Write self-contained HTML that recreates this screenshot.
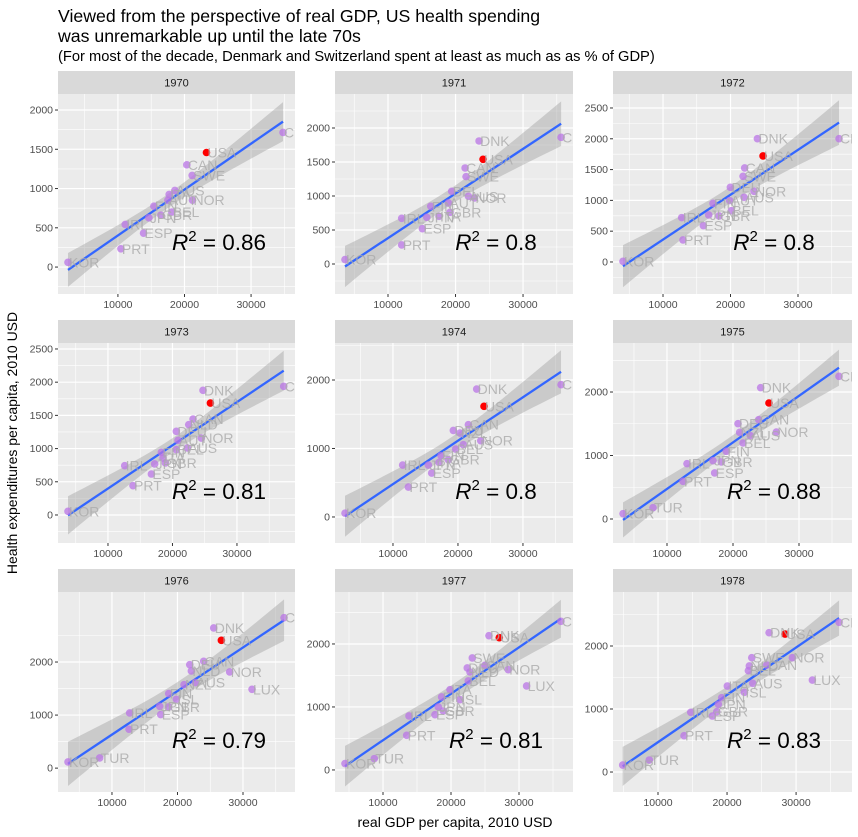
<!DOCTYPE html>
<html><head><meta charset="utf-8"><title>US health spending vs GDP</title>
<style>
html,body{margin:0;padding:0;background:#fff;}
svg{display:block;font-family:"Liberation Sans",Arial,sans-serif;}
</style></head>
<body>
<svg id="chart" width="858" height="837" viewBox="0 0 858 837" xmlns="http://www.w3.org/2000/svg">
<text x="58" y="22" font-size="17.7" fill="#000">Viewed from the perspective of real GDP, US health spending</text>
<text x="58" y="42" font-size="17.7" fill="#000">was unremarkable up until the late 70s</text>
<text x="58" y="61" font-size="14.7" fill="#000">(For most of the decade, Denmark and Switzerland spent at least as much as as % of GDP)</text>
<text transform="translate(17,443) rotate(-90)" text-anchor="middle" font-size="14" fill="#000">Health expenditures per capita, 2010 USD</text>
<text x="455" y="827" text-anchor="middle" font-size="14" fill="#000">real GDP per capita, 2010 USD</text>
<g id="panels"></g>
</svg>
<script>
const years = ["1970","1971","1972","1973","1974","1975","1976","1977","1978"];
const r2Labels = ["0.86","0.8","0.8","0.81","0.8","0.88","0.79","0.81","0.83"];
const xTicks = [10000, 20000, 30000];
const yTicks1970 = [0,500,1000,1500,2000];
const yTicks1971 = [0,500,1000,1500,2000];
const yTicks1972 = [0,500,1000,1500,2000,2500];
const yTicks1973 = [0,500,1000,1500,2000,2500];
const yTicksLate = [0,1000,2000];
const xDomains = [[1000,36600],[2150,37400],[2590,38000],[2250,39000],[1080,37700],[1820,38030],[1760,37940],[2940,37940],[3480,38100]];
const yDomains = [[-343,2204],[-441,2500],[-520,2727],[-422,2590],[-380,2540],[-378,2772],[-450,3320],[-350,2825],[-317,2857]];

const data1970 = [["KOR",2500,60],["PRT",10450,233],["ESP",13850,432],["IRL",11100,543],["JPN",14650,627],["GBR",16450,661],["FIN",15400,776],["BEL",18100,700],["AUT",17500,852],["ITA",17700,925],["AUS",18550,976],["NOR",21200,852],["SWE",21150,1167],["CAN",20350,1302],["USA",23300,1459],["CHE",34800,1714]];
const data1971 = [["KOR",3630,65],["PRT",12030,280],["ESP",15090,520],["IRL",12030,672],["JPN",15740,687],["ITA",17560,702],["GBR",19190,760],["FIN",16330,849],["AUT",18950,898],["BEL",19440,1069],["AUS",21910,996],["NOR",22800,971],["SWE",21560,1285],["CAN",21420,1412],["USA",24080,1540],["DNK",23490,1809],["CHE",35640,1863]];
const data1972 = [["KOR",4070,10],["PRT",12960,357],["ESP",15980,590],["IRL",12770,720],["JPN",16770,763],["GBR",18300,747],["BEL",20130,833],["FIN",17410,952],["AUT",19880,996],["DEU",19980,1212],["AUS",22000,1050],["NOR",23490,1147],["SWE",21860,1391],["CAN",22100,1526],["USA",24820,1721],["DNK",23980,2002],["CHE",36080,2002]];
const data1973 = [["KOR",3800,55],["PRT",13880,441],["ESP",16730,617],["IRL",12590,743],["JPN",17240,768],["GBR",18900,783],["ITA",18540,858],["FIN",18280,944],["BEL",20600,984],["AUS",22310,1009],["AUT",20860,1124],["NOR",24480,1159],["DEU",20600,1260],["NLD",22520,1360],["CAN",23190,1445],["USA",25880,1686],["DNK",24740,1877],["CHE",37250,1937]];
const data1974 = [["KOR",2620,56],["PRT",12370,436],["ESP",15960,641],["IRL",11490,758],["JPN",15440,758],["ITA",17090,797],["GBR",18520,836],["FIN",17390,894],["BEL",19650,991],["AUS",20830,1055],["NOR",23500,1113],["DEU",19290,1264],["NZL",20320,1225],["CAN",21600,1347],["USA",24010,1615],["DNK",22880,1868],["CHE",35860,1931]];
const data1975 = [["KOR",3340,84],["TUR",7880,179],["PRT",12430,593],["ESP",17220,725],["IRL",13030,872],["JPN",16970,919],["GBR",18230,898],["FIN",18990,1066],["BEL",21520,1197],["NZL",21010,1365],["AUS",22630,1312],["NOR",26570,1370],["DEU",20760,1502],["CAN",23890,1565],["USA",25450,1827],["DNK",24190,2069],["CHE",36060,2247]];
const data1976 = [["KOR",3290,117],["TUR",8120,193],["PRT",12600,733],["IRL",12700,1040],["ESP",17440,1009],["JPN",17280,1166],["GBR",18660,1153],["ISL",19830,1298],["FIN",18660,1405],["NZL",21000,1574],["AUS",22730,1612],["NLD",22120,1832],["DEU",21870,1951],["CAN",24000,2014],["NOR",27970,1813],["LUX",31380,1486],["USA",26700,2409],["DNK",25530,2642],["CHE",36270,2836]];
const data1977 = [["KOR",4410,101],["TUR",8720,180],["PRT",13480,550],["IRL",13820,857],["ESP",17640,878],["GBR",18870,936],["JPN",18130,1000],["ISL",21320,1116],["FIN",18620,1159],["ITA",19850,1275],["BEL",22540,1413],["NLD",22790,1555],["DEU",22390,1619],["CAN",24990,1661],["NOR",28420,1592],["SWE",23130,1778],["LUX",31120,1333],["USA",27100,2100],["DNK",25580,2132],["CHE",36160,2359]];
const data1978 = [["KOR",4880,111],["TUR",8740,191],["PRT",13770,576],["ESP",17870,889],["IRL",14740,948],["GBR",18510,957],["JPN",18740,1075],["FIN",19230,1180],["ISL",22510,1265],["ITA",20040,1365],["AUS",23720,1408],["BEL",23090,1608],["NLD",23230,1683],["CAN",25750,1698],["SWE",23580,1814],["NOR",29460,1814],["LUX",32360,1460],["DNK",26090,2211],["USA",28400,2190],["CHE",36230,2376]];

const allData = [data1970,data1971,data1972,data1973,data1974,data1975,data1976,data1977,data1978];
const allYTicks = [yTicks1970,yTicks1971,yTicks1972,yTicks1973,yTicksLate,yTicksLate,yTicksLate,yTicksLate,yTicksLate];

const NS = "http://www.w3.org/2000/svg";
const colLeft = [58, 335, 613];
const colWidth = [237, 238, 239];
const rowTop = [94, 343, 592];
const panelH = 200, stripH = 23;
const root = document.getElementById('panels');

function mk(tag, attrs, parent) {
  const e = document.createElementNS(NS, tag);
  for (const k in attrs) e.setAttribute(k, attrs[k]);
  parent.appendChild(e);
  return e;
}

allData.forEach(function(d, i) {
  const col = i % 3, row = Math.floor(i / 3);
  const L = colLeft[col], W = colWidth[col], T = rowTop[row];
  const xd = xDomains[i], yd = yDomains[i];
  const sx = v => L + (v - xd[0]) / (xd[1] - xd[0]) * W;
  const sy = v => T + panelH - (v - yd[0]) / (yd[1] - yd[0]) * panelH;

  const g = mk('g', {}, root);
  
  

  const clip = mk('clipPath', {id: 'clip' + i}, g);
  mk('rect', {x: L, y: T, width: W, height: panelH}, clip);

  const strip = mk('rect', {x: L, y: T - stripH, width: W, height: stripH, fill: '#d9d9d9'}, g);
  
  
  const st = mk('text', {x: L + W / 2, y: T - stripH / 2 + 4, 'text-anchor': 'middle', 'font-size': '11', fill: '#1a1a1a'}, g);
  st.textContent = years[i];
  
  

  const bg = mk('rect', {x: L, y: T, width: W, height: panelH, fill: '#ebebeb'}, g);
  
  

  const yt = allYTicks[i];
  const ystep = yt[1] - yt[0];
  for (let v = yt[0] - ystep / 2; v <= yt[yt.length - 1] + ystep; v += ystep) {
    if (v > yd[0] && v < yd[1]) mk('line', {x1: L, x2: L + W, y1: sy(v), y2: sy(v), stroke: '#fff', 'stroke-width': 0.6}, g);
  }
  const xstep = xTicks[1] - xTicks[0];
  for (let v = xTicks[0] - xstep / 2; v <= xTicks[xTicks.length - 1] + xstep; v += xstep) {
    if (v > xd[0] && v < xd[1]) mk('line', {y1: T, y2: T + panelH, x1: sx(v), x2: sx(v), stroke: '#fff', 'stroke-width': 0.6}, g);
  }
  yt.forEach(function(v) {
    const y = sy(v);
    mk('line', {x1: L, x2: L + W, y1: y, y2: y, stroke: '#fff', 'stroke-width': 1.2}, g);
    mk('line', {x1: L - 3, x2: L, y1: y, y2: y, stroke: '#333', 'stroke-width': 1}, g);
    const t = mk('text', {x: L - 5, y: y + 3.5, 'text-anchor': 'end', 'font-size': '10.5', fill: '#4d4d4d'}, g);
    t.textContent = v;
    
    
  });
  xTicks.forEach(function(v) {
    const x = sx(v);
    mk('line', {y1: T, y2: T + panelH, x1: x, x2: x, stroke: '#fff', 'stroke-width': 1.2}, g);
    mk('line', {y1: T + panelH, y2: T + panelH + 3, x1: x, x2: x, stroke: '#333', 'stroke-width': 1}, g);
    const t = mk('text', {x: x, y: T + panelH + 14, 'text-anchor': 'middle', 'font-size': '10.5', fill: '#4d4d4d'}, g);
    t.textContent = v;
    
    
  });

  const cg = mk('g', {'clip-path': 'url(#clip' + i + ')'}, g);

  const n = d.length;
  let mx = 0, my = 0;
  d.forEach(p => { mx += p[1]; my += p[2]; });
  mx /= n; my /= n;
  let sxx = 0, sxy = 0;
  d.forEach(p => { sxx += (p[1] - mx) * (p[1] - mx); sxy += (p[1] - mx) * (p[2] - my); });
  const b = sxy / sxx, a = my - b * mx;
  let sse = 0;
  d.forEach(p => { const r = p[2] - (a + b * p[1]); sse += r * r; });
  const s = Math.sqrt(sse / (n - 2));
  const tcrit = 2.12;
  const xmin = Math.min.apply(null, d.map(p => p[1]));
  const xmax = Math.max.apply(null, d.map(p => p[1]));
  const up = [], lo = [];
  for (let k = 0; k <= 40; k++) {
    const xv = xmin + (xmax - xmin) * k / 40;
    const se = s * Math.sqrt(1 / n + (xv - mx) * (xv - mx) / sxx);
    const yv = a + b * xv;
    up.push(sx(xv).toFixed(2) + ',' + sy(yv + tcrit * se).toFixed(2));
    lo.unshift(sx(xv).toFixed(2) + ',' + sy(yv - tcrit * se).toFixed(2));
  }
  const rib = mk('polygon', {points: up.concat(lo).join(' '), fill: '#999999', 'fill-opacity': 0.4}, cg);
  
  
  const fit = mk('line', {x1: sx(xmin), y1: sy(a + b * xmin), x2: sx(xmax), y2: sy(a + b * xmax), stroke: '#3366FF', 'stroke-width': 2.3}, cg);
  
  

  d.forEach(function(p) {
    const c = mk('circle', {cx: sx(p[1]), cy: sy(p[2]), r: 3.8, fill: p[0] === 'USA' ? '#ff0000' : '#b974e6', 'fill-opacity': p[0] === 'USA' ? 1 : 0.75}, cg);
    
    
  });
  d.forEach(function(p) {
    const t = mk('text', {x: sx(p[1]) + 1, y: sy(p[2]) + 5, 'font-size': '14', fill: '#aaaaaa', 'fill-opacity': 0.8}, cg);
    t.textContent = p[0];
    
    
  });

  const rt = mk('text', {x: L + 161, y: T + 156, 'text-anchor': 'middle', 'font-size': '22.5', fill: '#000'}, g);
  
  
  const t1 = mk('tspan', {'font-style': 'italic'}, rt); t1.textContent = 'R';
  const t2 = mk('tspan', {dy: '-9', 'font-size': '15'}, rt); t2.textContent = '2';
  const t3 = mk('tspan', {dy: '9'}, rt); t3.textContent = ' = ' + r2Labels[i];
});
</script>
</body></html>
